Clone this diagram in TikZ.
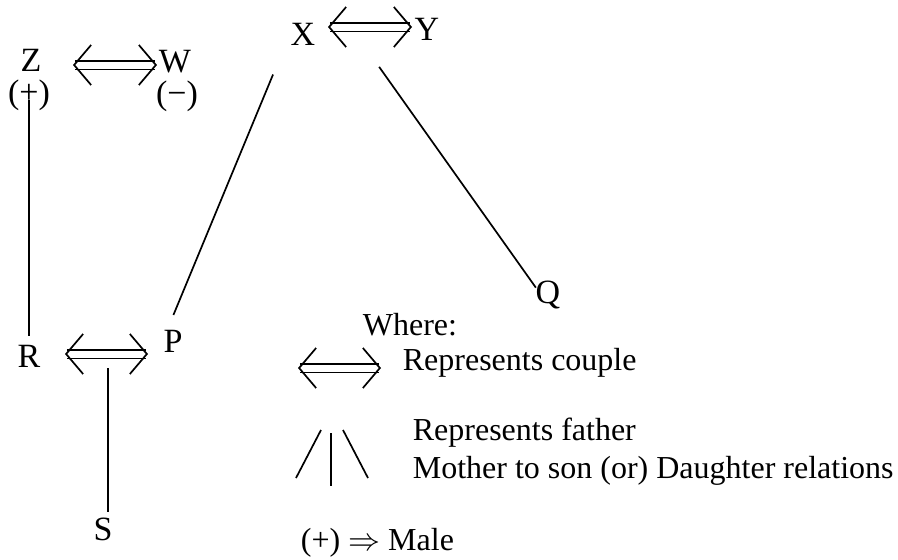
\RequirePackage{fix-cm}
\documentclass[tikz,border=0pt]{standalone}
\usepackage{fontspec}
\setmainfont{Liberation Serif}
\usetikzlibrary{arrows.meta,calc}
\begin{document}
\begin{tikzpicture}[x=1pt, y=-1pt, line width=1.7pt,
    person/.style={inner sep=0pt, anchor=base, font=\fontsize{34}{40}\selectfont},
    note/.style={inner sep=0pt, anchor=base west, font=\fontsize{32}{38}\selectfont},
    barb/.tip={Straight Barb[length=17pt, width=40pt, line width=1.7pt]},
    couple/.style={double, double distance=7pt, line width=1.5pt, barb-barb}]
    \useasboundingbox (0,0) rectangle (898,560);

    % family members
    \node[person] (X) at (303,45) {X};
    \node[person] (Y) at (427,40) {Y};
    \node[person] (Z) at (31,71) {Z};
    \node[person] (zsign) at (29,103) {(+)};
    \node[person] (W) at (175,72) {W};
    \node[person] (wsign) at (177,104) {(−)};
    \node[person] (R) at (29,367) {R};
    \node[person] (P) at (173,352) {P};
    \node[person] (Q) at (548,303) {Q};
    \node[person] (S) at (103,540) {S};

    % couples
    \coordinate (xyL) at (328,27);  \coordinate (xyR) at (412,27);
    \coordinate (zwL) at (73,65);   \coordinate (zwR) at (157,65);
    \coordinate (rpL) at (65,354);  \coordinate (rpR) at (148,354);
    \coordinate (rpM) at ($(rpL)!0.52!(rpR)$);
    \draw[couple] (xyL) -- (xyR);
    \draw[couple] (zwL) -- (zwR);
    \draw[couple] (rpL) -- (rpR);

    % parent to child
    \draw[shorten >=8pt] ([yshift=11pt]zsign.south) -- (zsign.south |- R.north);
    \draw[shorten <=28pt, shorten >=44pt] (P.west) -- (X.west);
    \draw ([shift={(63,21)}]X.south east) -- ([shift={(1,8)}]Q.north west);
    \draw[shorten <=14pt, shorten >=5pt] (rpM) -- (rpM |- S.north);

    % key
    \node[note] (where) at (362,335) {Where:};
    \coordinate (keyL) at (298,368); \coordinate (keyR) at (381,368);
    \draw[couple] (keyL) -- (keyR);
    \node[note] (coupletxt) at (402,370) {Represents couple};
    \draw (296,478) -- (321,430);
    \draw (331,433) -- (331,486);
    \draw (343,430) -- (368,478);
    \node[note] (fathertxt) at (412,440) {Represents father};
    \node[note] (mothertxt) at (412,478) {Mother to son (or) Daughter relations};
    \node[note] (maletxt) at (300,550) {(+) $\Rightarrow$ Male};
\end{tikzpicture}
\end{document}
